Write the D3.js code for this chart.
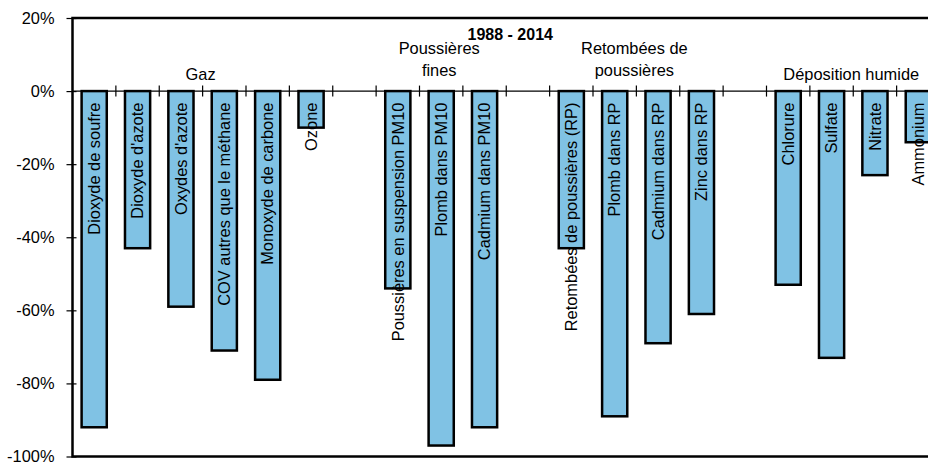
<!DOCTYPE html>
<html>
<head>
<meta charset="utf-8">
<script src="https://cdn.jsdelivr.net/npm/d3@7"></script>
<style>
  body { margin: 0; background: #fff; }
  text { font-family: "Liberation Sans", Arial, sans-serif; fill: #000; }
</style>
</head>
<body>
<div id="chart"></div>
<script>
// empty strings are the gaps between the groups
const categories = [
  "Dioxyde de soufre", "Dioxyde d'azote", "Oxydes d'azote", "COV autres que le méthane",
  "Monoxyde de carbone", "Ozone", "",
  "Poussières en suspension PM10", "Plomb dans PM10", "Cadmium dans PM10", "",
  "Retombées de poussières (RP)", "Plomb dans RP", "Cadmium dans RP", "Zinc dans RP", "",
  "Chlorure", "Sulfate", "Nitrate", "Ammonium"
];
const values = [-92, -43, -59, -71, -79, -10, null, -54, -97, -92, null, -43, -89, -69, -61, null, -53, -73, -23, -14];

const groupNames = [["Gaz"], ["Poussières", "fines"], ["Retombées de", "poussières"], ["Déposition humide"]];
const groupFirst = [0, 7, 11, 16];
const groupLast = [5, 9, 14, 19];

const yTicks = [20, 0, -20, -40, -60, -80, -100];
const title = "1988 - 2014";

const width = 928;
const height = 463;
const marginLeft = 72.5;
const plotRight = 940;
const marginTop = 18;
const marginBottom = 6.5;

const svg = d3.select("#chart").append("svg")
  .attr("width", width)
  .attr("height", height);

const x = d3.scaleBand()
  .domain(d3.range(categories.length))
  .range([marginLeft, plotRight])
  .paddingInner(0.42)
  .paddingOuter(0.21);

const y = d3.scaleLinear()
  .domain([-100, 20])
  .range([height - marginBottom, marginTop]);

const gap = x.step() * x.paddingInner() / 2;

// y axis
const yAxis = svg.append("g")
  .attr("transform", `translate(${marginLeft},0)`)
  .call(d3.axisLeft(y).tickValues(yTicks).tickFormat(d => d + "%").tickSize(6).tickPadding(12));
yAxis.select(".domain").remove();
yAxis.selectAll(".tick line").attr("x2", 4).attr("x1", -6).attr("stroke-width", 1.2);
yAxis.selectAll("text").attr("font-size", 16.4).attr("font-family", "Liberation Sans, Arial, sans-serif");

// bars
const barData = values.map((v, i) => ({ i, v, name: categories[i] })).filter(d => d.v !== null);

svg.append("g")
  .selectAll("rect")
  .data(barData)
  .join("rect")
  .attr("x", d => x(d.i))
  .attr("y", y(0))
  .attr("width", x.bandwidth())
  .attr("height", d => y(d.v) - y(0))
  .attr("fill", "#80c2e4")
  .attr("stroke", "#000")
  .attr("stroke-width", 2.5);

// zero line with separators
svg.append("line")
  .attr("x1", marginLeft)
  .attr("x2", plotRight)
  .attr("y1", y(0))
  .attr("y2", y(0))
  .attr("stroke", "#000")
  .attr("stroke-width", 1.2);

svg.append("g")
  .selectAll("line")
  .data(d3.range(1, categories.length))
  .join("line")
  .attr("x1", i => x(i) - gap)
  .attr("x2", i => x(i) - gap)
  .attr("y1", y(0) - 5.5)
  .attr("y2", y(0) + 5.5)
  .attr("stroke", "#000")
  .attr("stroke-width", 1.2);

// labels on bars
svg.append("g")
  .selectAll("text")
  .data(barData)
  .join("text")
  .attr("transform", d => `translate(${x(d.i) + x.bandwidth() / 2},${y(0) + 11.5}) rotate(-90)`)
  .attr("dy", "0.35em")
  .attr("text-anchor", "end")
  .attr("font-size", 16.4)
  .text(d => d.name);

// frame
svg.append("path")
  .attr("d", `M${plotRight},${marginTop}H${marginLeft}V${height - marginBottom}H${plotRight}`)
  .attr("fill", "none")
  .attr("stroke", "#000")
  .attr("stroke-width", 2.5);

// group labels
groupNames.forEach((lines, g) => {
  const cx = (x(groupFirst[g]) - gap + x(groupLast[g]) + x.bandwidth() + gap) / 2;
  const t = svg.append("text")
    .attr("x", cx - 2)
    .attr("y", lines.length > 1 ? 54 : 80)
    .attr("text-anchor", "middle")
    .attr("font-size", 16.4);
  lines.forEach((l, k) => {
    t.append("tspan").attr("x", cx - 2).attr("dy", k === 0 ? 0 : 22).text(l);
  });
});

svg.append("text")
  .attr("x", (marginLeft + plotRight) / 2 + 4)
  .attr("y", 40)
  .attr("text-anchor", "middle")
  .attr("font-size", 16)
  .attr("font-weight", "bold")
  .text(title);
</script>
</body>
</html>
